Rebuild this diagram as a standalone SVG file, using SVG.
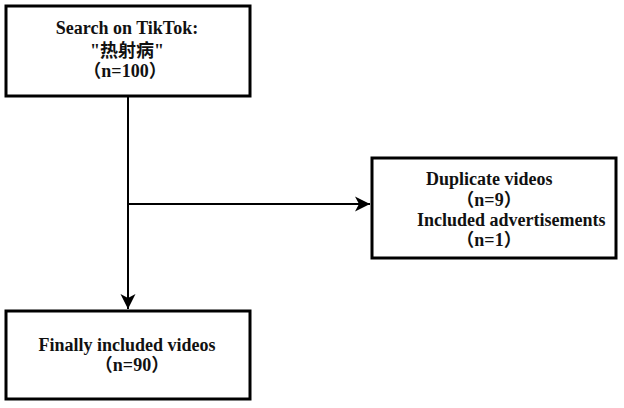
<svg xmlns="http://www.w3.org/2000/svg" width="624" height="408" viewBox="0 0 624 408">
<style>
.box{fill:#fff;stroke:#000;stroke-width:3}
.t{font-family:"Liberation Serif","Noto Sans CJK SC",serif;font-weight:bold;font-size:18px;fill:#111}
.m{text-anchor:middle}
.line{stroke:#000;stroke-width:2;fill:none}
</style>
<defs>
<marker id="arr" markerUnits="userSpaceOnUse" markerWidth="16" markerHeight="16" viewBox="0 0 16 16" refX="15" refY="8" orient="auto">
<path d="M0,0.5 L15,8 L0,15.5 L4,8 Z" fill="#000"/>
</marker>
</defs>
<rect width="624" height="408" fill="#fff"/>
<g id="connectors">
<line class="line" x1="128" y1="97" x2="128" y2="309" marker-end="url(#arr)"/>
<line class="line" x1="128" y1="204" x2="370" y2="204" marker-end="url(#arr)"/>
</g>
<g id="search">
<rect class="box" x="6" y="6" width="244" height="90"/>
<text class="t m" x="127" y="34">Search on TikTok:</text>
<text class="t m" x="127" y="57">"热射病"</text>
<text class="t m" x="125" y="77">（n=100）</text>
</g>
<g id="excluded">
<rect class="box" x="372" y="158" width="244" height="100"/>
<text class="t" x="426" y="185">Duplicate videos</text>
<text class="t m" x="489" y="206">（n=9）</text>
<text class="t" x="417" y="226">Included advertisements</text>
<text class="t m" x="489" y="246">（n=1）</text>
</g>
<g id="final">
<rect class="box" x="6" y="311" width="244" height="88"/>
<text class="t m" x="127" y="351">Finally included videos</text>
<text class="t m" x="132" y="371">（n=90）</text>
</g>
</svg>
